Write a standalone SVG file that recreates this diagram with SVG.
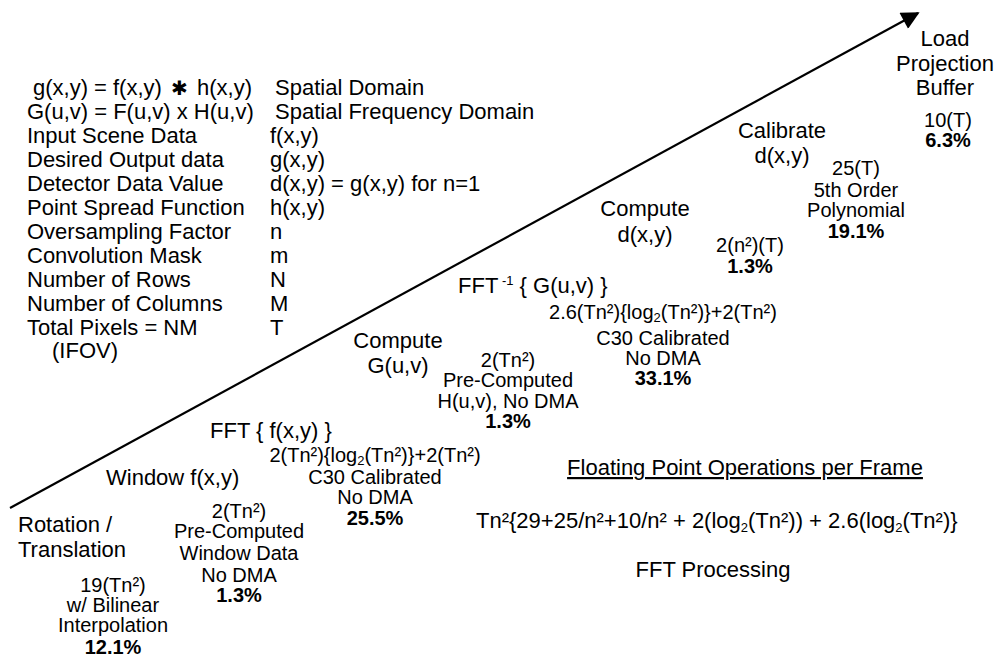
<svg xmlns="http://www.w3.org/2000/svg" width="1002" height="658" viewBox="0 0 1002 658">
<defs>
<style>
text{font-family:"Liberation Sans",Arial,sans-serif;font-size:20px;fill:#000}
.t{font-size:22px}
.c{text-anchor:middle}
.b{font-weight:bold}
.sub{font-size:13px}
.sup{font-size:13px}
</style>
<marker id="ah" viewBox="0 0 10 10" refX="9" refY="5" markerWidth="26" markerHeight="18" markerUnits="userSpaceOnUse" orient="auto">
<path d="M0,0 L10,5 L0,10 z" fill="#000"/>
</marker>
</defs>
<rect width="1002" height="658" fill="#fff"/>
<g id="connectors">
<line x1="10" y1="508" x2="918" y2="13" stroke="#000" stroke-width="2.2" marker-end="url(#ah)"/>
</g>
<g id="legend" class="t">
<text class="t" x="33" y="95">g(x,y) =</text><text class="t" x="113" y="95">f(x,y)</text><text x="171" y="95" font-family="DejaVu Sans,sans-serif" font-size="19">✱</text><text class="t" x="197" y="95">h(x,y)</text>
<text class="t" x="275" y="95">Spatial Domain</text>
<text class="t" x="27" y="119">G(u,v) = F(u,v) x H(u,v)</text>
<text class="t" x="275" y="119">Spatial Frequency Domain</text>
<text class="t" x="27" y="143">Input Scene Data</text><text class="t" x="270" y="143">f(x,y)</text>
<text class="t" x="27" y="167">Desired Output data</text><text class="t" x="270" y="167">g(x,y)</text>
<text class="t" x="27" y="191">Detector Data Value</text><text class="t" x="270" y="191">d(x,y) = g(x,y) for n=1</text>
<text class="t" x="27" y="215">Point Spread Function</text><text class="t" x="270" y="215">h(x,y)</text>
<text class="t" x="27" y="239">Oversampling Factor</text><text class="t" x="270" y="239">n</text>
<text class="t" x="27" y="263">Convolution Mask</text><text class="t" x="270" y="263">m</text>
<text class="t" x="27" y="287">Number of Rows</text><text class="t" x="270" y="287">N</text>
<text class="t" x="27" y="311">Number of Columns</text><text class="t" x="270" y="311">M</text>
<text class="t" x="27" y="335">Total Pixels = NM</text><text class="t" x="270" y="335">T</text>
<text class="t" x="52" y="358">(IFOV)</text>
</g>
<g id="rotation">
<text class="t" x="18" y="532">Rotation /</text>
<text class="t" x="18" y="557">Translation</text>
<text class="c" x="113" y="592">19(Tn²)</text>
<text class="c" x="113" y="612">w/ Bilinear</text>
<text class="c" x="113" y="632">Interpolation</text>
<text class="c b" x="113" y="654">12.1%</text>
</g>
<g id="window">
<text class="t" x="106" y="485">Window f(x,y)</text>
<text class="c" x="239" y="518">2(Tn²)</text>
<text class="c" x="239" y="538">Pre-Computed</text>
<text class="c" x="239" y="560">Window Data</text>
<text class="c" x="239" y="582">No DMA</text>
<text class="c b" x="239" y="602">1.3%</text>
</g>
<g id="fft">
<text class="t" x="210" y="438">FFT { f(x,y) }</text>
<text class="c" x="375" y="462">2(Tn²){log<tspan class="sub" dy="3">2</tspan><tspan dy="-3">(Tn²)}+2(Tn²)</tspan></text>
<text class="c" x="375" y="484">C30 Calibrated</text>
<text class="c" x="375" y="504">No DMA</text>
<text class="c b" x="375" y="525">25.5%</text>
</g>
<g id="computeG">
<text class="c t" x="398" y="348">Compute</text>
<text class="c t" x="398" y="373">G(u,v)</text>
<text class="c" x="508" y="367">2(Tn²)</text>
<text class="c" x="508" y="387">Pre-Computed</text>
<text class="c" x="508" y="408">H(u,v), No DMA</text>
<text class="c b" x="508" y="428">1.3%</text>
</g>
<g id="ifft">
<text class="t" x="458" y="293">FFT<tspan class="sup" dy="-8"> -1</tspan><tspan dy="8"> { G(u,v) }</tspan></text>
<text class="c" x="663" y="319">2.6(Tn²){log<tspan class="sub" dy="3">2</tspan><tspan dy="-3">(Tn²)}+2(Tn²)</tspan></text>
<text class="c" x="663" y="345">C30 Calibrated</text>
<text class="c" x="663" y="365">No DMA</text>
<text class="c b" x="663" y="385">33.1%</text>
</g>
<g id="computeD">
<text class="c t" x="645" y="216">Compute</text>
<text class="c t" x="645" y="242">d(x,y)</text>
<text class="c" x="750" y="252" font-size="17">2(n²)(T)</text>
<text class="c b" x="750" y="273" font-size="18">1.3%</text>
</g>
<g id="calibrate">
<text class="c t" x="782" y="138">Calibrate</text>
<text class="c t" x="782" y="163">d(x,y)</text>
<text class="c" x="856" y="175">25(T)</text>
<text class="c" x="856" y="197">5th Order</text>
<text class="c" x="856" y="217">Polynomial</text>
<text class="c b" x="856" y="238">19.1%</text>
</g>
<g id="load">
<text class="c t" x="945" y="46">Load</text>
<text class="c t" x="945" y="71">Projection</text>
<text class="c t" x="945" y="95">Buffer</text>
<text class="c" x="948" y="127">10(T)</text>
<text class="c b" x="948" y="147">6.3%</text>
</g>
<g id="summary">
<text class="c t" x="745" y="475" text-decoration="underline">Floating Point Operations per Frame</text>
<text class="t" x="476" y="528">Tn²{29+25/n²+10/n² + 2(log<tspan class="sub" dy="4">2</tspan><tspan dy="-4">(Tn²)) + 2.6(log</tspan><tspan class="sub" dy="4">2</tspan><tspan dy="-4">(Tn²)}</tspan></text>
<text class="c t" x="713" y="577">FFT Processing</text>
</g>
</svg>
